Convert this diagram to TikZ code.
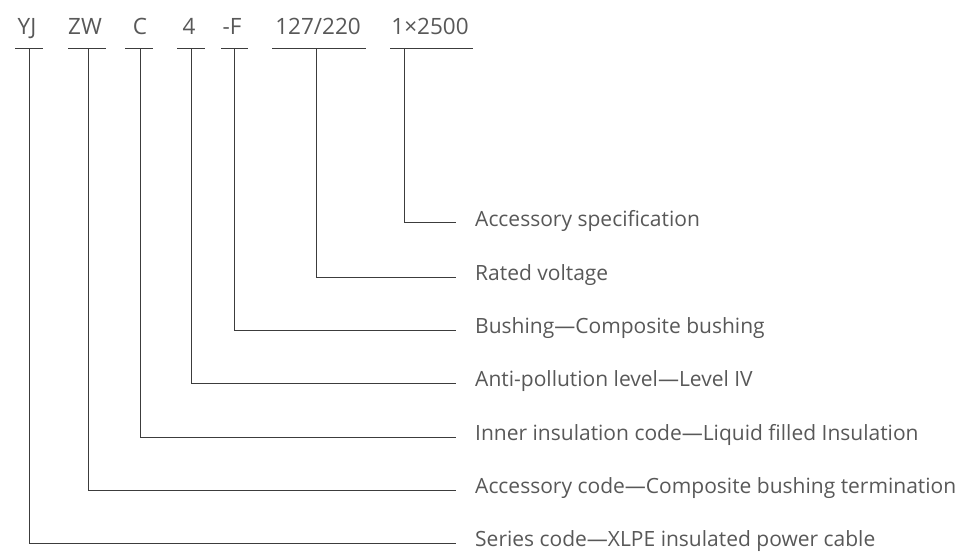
\documentclass[tikz,border=0pt]{standalone}
\usepackage{fontspec}
\setmainfont{Open Sans}
\usepackage{tikz}
\definecolor{codegray}{RGB}{88,88,88}
\definecolor{leadgray}{RGB}{60,60,60}

\begin{document}
\begin{tikzpicture}[x=1pt,y=1pt,
    code/.style={anchor=base,text=codegray,inner sep=0pt,font=\fontsize{22.5}{26}\selectfont},
    desc/.style={anchor=west,text=codegray,inner xsep=19pt,inner ysep=0pt,
        text height=0.7em,text depth=0pt,font=\fontsize{21}{25}\selectfont},
    lead/.style={draw=leadgray,line width=1pt}]
    \useasboundingbox (0,0) rectangle (976,-553);
    % code part, underline, tick point, description
    \foreach \n/\t/\xa/\xb/\xc/\xt/\yd/\d in {
        yj/YJ/15/43/27/29/543/Series code—XLPE insulated power cable,
        zw/ZW/68/106/85/88/490/Accessory code—Composite bushing termination,
        c/C/125/153/140/140/437/Inner insulation code—Liquid filled Insulation,
        lvl/4/177/205/189/191/383/Anti-pollution level—Level IV,
        f/-F/221/248/232/234/330/Bushing—Composite bushing,
        uv/{127/220}/272/366/318/316/277/Rated voltage,
        spec/1×2500/390/473/430/404/223/Accessory specification}{
        \node[code] (\n) at (\xc,-35) {\t};
        \draw[lead] (\xa,-49) -- (\xb,-49);
        \coordinate (t-\n) at (\xt,-49);
        \node[desc] (d-\n) at (456,-\yd) {\d};
        \draw[lead] (t-\n) |- (d-\n.west);
    }
\end{tikzpicture}
\end{document}
